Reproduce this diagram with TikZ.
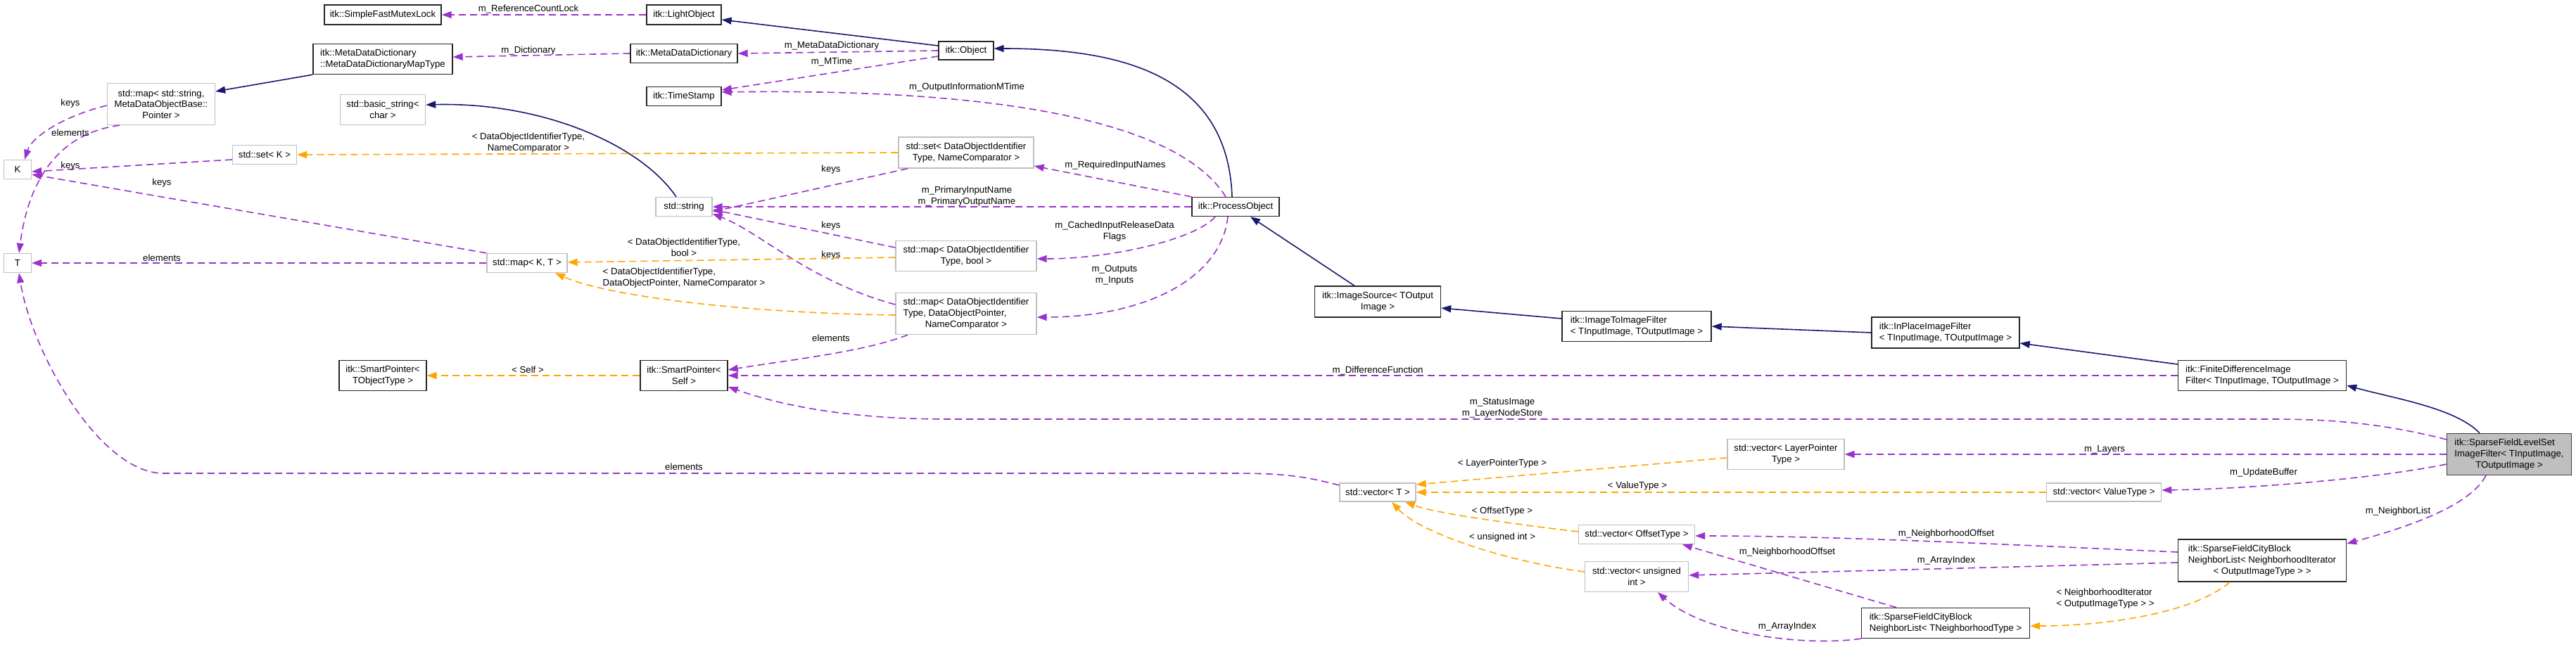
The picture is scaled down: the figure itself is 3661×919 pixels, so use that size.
\documentclass[tikz,border=0pt]{standalone}
\usepackage{fontspec}
\setmainfont{Liberation Sans}
\usetikzlibrary{arrows.meta}
\definecolor{inhblue}{HTML}{191970}
\definecolor{usepurple}{HTML}{9A32CD}
\definecolor{tplorange}{HTML}{FFA500}
\definecolor{boxgray}{HTML}{BFBFBF}
\newcommand{\dxfont}{\fontsize{13.2}{15.7}\selectfont}

\begin{document}
\begin{tikzpicture}[x=1pt,y=-1pt,font=\dxfont,
	cls/.style={draw=black!85,line width=1.4pt,fill=white,inner sep=0pt,align=center},
	ext/.style={cls,draw=boxgray},
	lbl/.style={inner sep=0pt,align=center},
	link/.style={line width=1.6pt,-{Triangle[length=14pt,width=10pt]}},
	inherit/.style={link,draw=inhblue},
	member/.style={link,draw=usepurple,dash pattern=on 10pt off 6pt},
	templ/.style={link,draw=tplorange,dash pattern=on 10pt off 6pt}]
	\path[use as bounding box,fill=white] (0,0) rectangle (3661,919);
	\node[cls,minimum width=166pt,minimum height=28pt] (SFML) at (544,21) {itk::SimpleFastMutexLock};
	\node[cls,align=left,minimum width=198pt,minimum height=43pt] (MDMT) at (544,84) {itk::MetaDataDictionary\\::MetaDataDictionaryMapType};
	\node[ext,minimum width=153pt,minimum height=59pt] (SMAP) at (229,148) {std::map< std::string,\\MetaDataObjectBase::\\Pointer >};
	\node[ext,minimum width=121pt,minimum height=43pt] (BSTR) at (544,156) {std::basic\_string<\\char >};
	\node[ext,minimum width=91pt,minimum height=27pt] (SETK) at (376,220) {std::set< K >};
	\node[ext,minimum width=39pt,minimum height=27pt] (K) at (25,241) {K};
	\node[ext,minimum width=39pt,minimum height=27pt] (T) at (25,374) {T};
	\node[ext,minimum width=114pt,minimum height=27pt] (MAPKT) at (749,374) {std::map< K, T >};
	\node[cls,minimum width=106pt,minimum height=28pt] (LO) at (972,21) {itk::LightObject};
	\node[cls,minimum width=152pt,minimum height=27pt] (MDD) at (972,76) {itk::MetaDataDictionary};
	\node[cls,minimum width=106pt,minimum height=27pt] (TS) at (972,137) {itk::TimeStamp};
	\node[ext,minimum width=80pt,minimum height=27pt] (STR) at (972,294) {std::string};
	\node[cls,minimum width=124pt,minimum height=43pt] (SPS) at (972,534) {itk::SmartPointer<\\Self >};
	\node[cls,minimum width=124pt,minimum height=43pt] (SPT) at (544,534) {itk::SmartPointer<\\TObjectType >};
	\node[cls,minimum width=78pt,minimum height=26pt] (OBJ) at (1373,72) {itk::Object};
	\node[ext,minimum width=192pt,minimum height=44pt] (SETD) at (1373,217) {std::set< DataObjectIdentifier\\Type, NameComparator >};
	\node[ext,minimum width=200pt,minimum height=43pt] (MAPB) at (1373,364) {std::map< DataObjectIdentifier\\Type, bool >};
	\node[ext,align=left,minimum width=200pt,minimum height=59pt] (MAPD) at (1373,446) {std::map< DataObjectIdentifier\\Type, DataObjectPointer,\\\hfil NameComparator >};
	\node[cls,minimum width=124pt,minimum height=27pt] (PO) at (1756,294) {itk::ProcessObject};
	\node[cls,minimum width=179pt,minimum height=44pt] (IS) at (1958,429) {itk::ImageSource< TOutput\\Image >};
	\node[ext,minimum width=108pt,minimum height=26pt] (VT) at (1958,700) {std::vector< T >};
	\node[cls,align=left,minimum width=212pt,minimum height=43pt] (ITI) at (2326,464) {itk::ImageToImageFilter\\< TInputImage, TOutputImage >};
	\node[ext,minimum width=165pt,minimum height=27pt] (VO) at (2326,760) {std::vector< OffsetType >};
	\node[ext,minimum width=147pt,minimum height=43pt] (VU) at (2326,820) {std::vector< unsigned\\int >};
	\node[ext,minimum width=166pt,minimum height=43pt] (VL) at (2538,646) {std::vector< LayerPointer\\Type >};
	\node[cls,align=left,minimum width=210pt,minimum height=44pt] (IP) at (2765,473) {itk::InPlaceImageFilter\\< TInputImage, TOutputImage >};
	\node[cls,align=left,minimum width=239pt,minimum height=43pt] (CBT) at (2765,886) {itk::SparseFieldCityBlock\\NeighborList< TNeighborhoodType >};
	\node[ext,minimum width=163pt,minimum height=26pt] (VV) at (2990,700) {std::vector< ValueType >};
	\node[cls,align=left,minimum width=239pt,minimum height=43pt] (FD) at (3215,534) {itk::FiniteDifferenceImage\\Filter< TInputImage, TOutputImage >};
	\node[cls,align=left,minimum width=239pt,minimum height=60pt] (CBN) at (3215,797) {itk::SparseFieldCityBlock\\NeighborList< NeighborhoodIterator\\\hfil< OutputImageType > >};
	\node[cls,align=left,fill=boxgray,draw=black!75,minimum width=177pt,minimum height=59pt] (SFLS) at (3566,646) {itk::SparseFieldLevelSet\\ImageFilter< TInputImage,\\\hfil TOutputImage >};

	\draw[inherit] ([yshift=7pt]OBJ.west) -- ([yshift=-7pt]LO.east);
	\draw[inherit] ([xshift=-5pt]PO.north) .. controls (1745,110) and (1600,69) .. ([yshift=3pt]OBJ.east);
	\draw[inherit] ([xshift=-33pt]IS.north) -- ([xshift=21pt]PO.south);
	\draw[inherit] ([yshift=11pt]ITI.west) -- ([yshift=-9pt]IS.east);
	\draw[inherit] (IP.west) -- (ITI.east);
	\draw[inherit] ([yshift=16pt]FD.west) -- ([yshift=-15pt]IP.east);
	\draw[inherit] ([xshift=-42pt]SFLS.north) .. controls (3490,580) and (3400,566) .. ([yshift=-14pt]FD.east);
	\draw[inherit] ([xshift=-11pt]STR.north) .. controls (910,205) and (770,145) .. ([yshift=7pt]BSTR.east);
	\draw[inherit] (MDMT.south west) -- ([yshift=18pt]SMAP.east);

	\draw[member] (LO) -- (SFML) node[lbl] (L1) at (751,13) {m\_ReferenceCountLock};
	\draw[member] (MDD.west) -- ([yshift=3pt]MDMT.east) node[lbl] (L2) at (751,72) {m\_Dictionary};
	\draw[member] (OBJ.west) -- (MDD.east) node[lbl] (L3) at (1182,65) {m\_MetaDataDictionary};
	\draw[member] ([yshift=-8pt]OBJ.west) -- ([yshift=9pt]TS.east) node[lbl] (L4) at (1182,88) {m\_MTime};
	\draw[member] ([xshift=-14pt]PO.north) .. controls (1680,180) and (1450,125) .. ([yshift=6pt]TS.east) node[lbl] (L5) at (1374,124) {m\_OutputInformationMTime};
	\draw[member] (PO.north west) -- ([yshift=-19pt]SETD.east) node[lbl] (L6) at (1585,235) {m\_RequiredInputNames};
	\draw[member] (PO) -- (STR) node[lbl] (L7) at (1374,279) {m\_PrimaryInputName\\m\_PrimaryOutputName};
	\draw[member] ([xshift=-29pt]PO.south) .. controls (1700,340) and (1580,368) .. ([yshift=-4pt]MAPB.east) node[lbl] (L8) at (1584,329) {m\_CachedInputReleaseData\\Flags};
	\draw[member] ([xshift=-11pt]PO.south) .. controls (1735,400) and (1620,451) .. ([yshift=-5pt]MAPD.east) node[lbl] (L9) at (1584,391) {m\_Outputs\\m\_Inputs};
	\draw[member] ([xshift=-83pt]SETD.south) -- ([yshift=-7pt]STR.east) node[lbl] (L10) at (1181,241) {keys};
	\draw[member] ([yshift=12pt]MAPB.west) -- ([yshift=-4pt]STR.east) node[lbl] (L11) at (1181,321) {keys};
	\draw[member] ([yshift=13pt]MAPD.west) .. controls (1150,400) and (1080,330) .. ([yshift=-10pt]STR.east) node[lbl] (L12) at (1181,363) {keys};
	\draw[member] ([xshift=-83pt]MAPD.south) .. controls (1230,500) and (1120,512) .. ([yshift=8pt]SPS.east) node[lbl] (L13) at (1181,481) {elements};
	\draw[member] ([yshift=-2pt]SMAP.west) .. controls (90,165) and (45,195) .. ([xshift=10pt]K.north) node[lbl] (L14) at (100,147) {keys};
	\draw[member] ([xshift=-59pt]SMAP.south) .. controls (80,190) and (40,260) .. ([xshift=2pt]T.north) node[lbl] (L15) at (100,189) {elements};
	\draw[member] ([yshift=-7pt]SETK.west) -- ([yshift=-3pt]K.east) node[lbl] (L16) at (100,236) {keys};
	\draw[member] (MAPKT.north west) -- ([yshift=-7pt]K.east) node[lbl] (L17) at (230,260) {keys};
	\draw[member] (MAPKT) -- (T) node[lbl] (L18) at (230,367) {elements};
	\draw[member] ([yshift=10pt]VT.west) .. controls (1850,676) and (1820,673) .. (1750,673) -- (230,673) .. controls (140,670) and (45,500) .. ([xshift=2pt]T.south) node[lbl] (L19) at (972,664) {elements};
	\draw[member] (FD) -- (SPS) node[lbl] (L20) at (1958,527) {m\_DifferenceFunction};
	\draw[member] ([yshift=21pt]SFLS.west) .. controls (3380,600) and (3300,596) .. (3233,596) -- (1346,596) .. controls (1220,596) and (1120,580) .. ([yshift=-16pt]SPS.east) node[lbl] (L21) at (2135,580) {m\_StatusImage\\m\_LayerNodeStore};
	\draw[member] (SFLS) -- (VL) node[lbl] (L22) at (2991,639) {m\_Layers};
	\draw[member] ([yshift=-14pt]SFLS.west) .. controls (3380,680) and (3200,695) .. ([yshift=3pt]VV.east) node[lbl] (L23) at (3217,672) {m\_UpdateBuffer};
	\draw[member] ([xshift=-33pt]SFLS.south) .. controls (3510,720) and (3420,750) .. ([yshift=24pt]CBN.east) node[lbl] (L24) at (3408,727) {m\_NeighborList};
	\draw[member] ([yshift=12pt]CBN.west) .. controls (2800,772) and (2600,762) .. ([yshift=-2pt]VO.east) node[lbl] (L25) at (2766,759) {m\_NeighborhoodOffset};
	\draw[member] ([yshift=-3pt]CBN.west) -- ([yshift=2pt]VU.east) node[lbl] (L26) at (2766,797) {m\_ArrayIndex};
	\draw[member] ([xshift=-70pt]CBT.north) -- ([xshift=65pt]VO.south) node[lbl] (L27) at (2540,785) {m\_NeighborhoodOffset};
	\draw[member] (CBT.south west) .. controls (2560,920) and (2420,900) .. ([xshift=30pt]VU.south) node[lbl] (L28) at (2540,891) {m\_ArrayIndex};

	\draw[templ] (SETD.west) -- (SETK.east) node[lbl] (L29) at (751,203) {< DataObjectIdentifierType,\\NameComparator >};
	\draw[templ] ([yshift=-2pt]MAPB.west) -- ([yshift=1pt]MAPKT.east) node[lbl] (L30) at (972,352) {< DataObjectIdentifierType,\\bool >};
	\draw[templ] ([yshift=-2pt]MAPD.west) .. controls (1050,445) and (860,420) .. ([xshift=40pt]MAPKT.south) node[lbl,align=left] (L31) at (972,395) {< DataObjectIdentifierType,\\DataObjectPointer, NameComparator >};
	\draw[templ] (SPS) -- (SPT) node[lbl] (L32) at (750,526) {< Self >};
	\draw[templ] ([yshift=-5pt]VL.west) -- ([yshift=11pt]VT.east) node[lbl] (L33) at (2135,659) {< LayerPointerType >};
	\draw[templ] (VV) -- (VT) node[lbl] (L34) at (2327,691) {< ValueType >};
	\draw[templ] ([yshift=4pt]VO.west) .. controls (2150,745) and (2040,730) .. ([xshift=39pt]VT.south) node[lbl] (L35) at (2135,727) {< OffsetType >};
	\draw[templ] ([yshift=7pt]VU.west) .. controls (2150,800) and (2020,760) .. ([xshift=20pt]VT.south) node[lbl] (L36) at (2135,764) {< unsigned int >};
	\draw[templ] ([xshift=-46pt]CBN.south) .. controls (3120,870) and (3000,890) .. ([yshift=-4pt]CBT.east) node[lbl,align=left] (L37) at (2992,851) {< NeighborhoodIterator\\< OutputImageType > >};
\end{tikzpicture}
\end{document}
